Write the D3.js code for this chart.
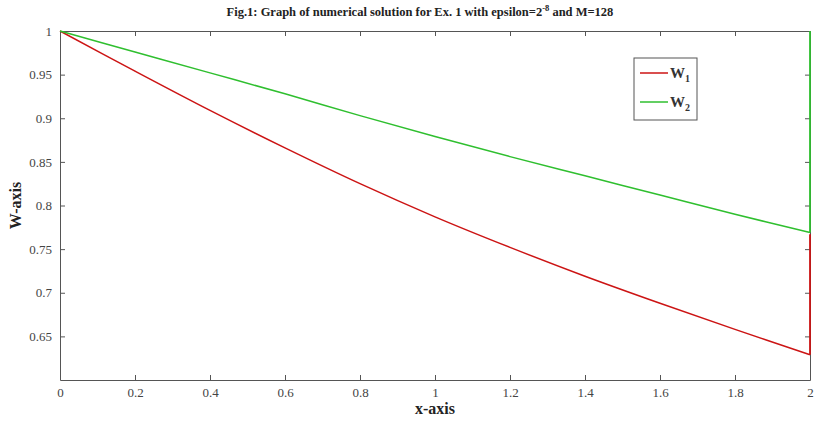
<!DOCTYPE html>
<html>
<head>
<meta charset="utf-8">
<script src="https://cdn.jsdelivr.net/npm/d3@7"></script>
<style>
  body { margin: 0; background: #fff; }
  svg { display: block; }
  svg text { font-family: "Liberation Serif", "Times New Roman", "DejaVu Serif", serif; }
</style>
</head>
<body>
<svg id="chart" width="814" height="426"></svg>
<script>
// values (last entry at x=2 is the boundary jump)
const xValues = [0, 0.2, 0.4, 0.6, 0.8, 1.0, 1.2, 1.4, 1.6, 1.8, 2.0, 2.0];
const w1Values = [1, 0.954, 0.909, 0.866, 0.825, 0.787, 0.752, 0.719, 0.688, 0.658, 0.629, 0.767];
const w2Values = [1, 0.976, 0.952, 0.928, 0.903, 0.879, 0.856, 0.834, 0.812, 0.790, 0.769, 1];
const xTicks = [0, 0.2, 0.4, 0.6, 0.8, 1, 1.2, 1.4, 1.6, 1.8, 2];
const yTicks = [0.65, 0.7, 0.75, 0.8, 0.85, 0.9, 0.95, 1];
const seriesNames = ["W1", "W2"];

const svg = d3.select("#chart");
const width = 814, height = 426;
const margin = { left: 60, right: 4, top: 31, bottom: 46 };
const innerW = width - margin.left - margin.right;
const innerH = height - margin.top - margin.bottom;
const axisColor = "#555";
const colors = ["#cc1414", "#2fbf2f"];
const serif = "\"Liberation Serif\", \"Times New Roman\", serif";

const x = d3.scaleLinear().domain([0, 2]).range([margin.left, margin.left + innerW]);
const y = d3.scaleLinear().domain([0.6, 1]).range([margin.top + innerH, margin.top]);

// title
const title = svg.append("text")
  .attr("x", x(1) - 15)
  .attr("y", 16)
  .attr("text-anchor", "middle")
  .style("font-size", "12.5px")
  .style("font-weight", "bold")
  .style("font-family", serif)
  .attr("fill", "#222");
title.append("tspan").text("Fig.1: Graph of numerical solution for Ex. 1 with epsilon=2");
title.append("tspan").attr("dy", -5).style("font-size", "8.5px").text("-8");
title.append("tspan").attr("dy", 5).text(" and M=128");

// axes with inward ticks on all four sides
const tickLen = 5;
const g = svg.append("g");

g.append("g")
  .attr("transform", `translate(0,${y(0.6)})`)
  .call(d3.axisBottom(x).tickValues(xTicks).tickSizeInner(-tickLen).tickSizeOuter(0).tickPadding(8)
    .tickFormat(d3.format("~g")));
g.append("g")
  .attr("transform", `translate(0,${y(1)})`)
  .call(d3.axisTop(x).tickValues(xTicks).tickSizeInner(-tickLen).tickSizeOuter(0).tickFormat(""));
g.append("g")
  .attr("transform", `translate(${x(0)},0)`)
  .call(d3.axisLeft(y).tickValues(yTicks).tickSizeInner(-tickLen).tickSizeOuter(0).tickPadding(8)
    .tickFormat(d3.format("~g")));
g.append("g")
  .attr("transform", `translate(${x(2)},0)`)
  .call(d3.axisRight(y).tickValues(yTicks).tickSizeInner(-tickLen).tickSizeOuter(0).tickFormat(""));

g.selectAll("g").attr("font-family", null);
g.selectAll("path.domain").attr("stroke", axisColor);
g.selectAll(".tick line").attr("stroke", axisColor);
g.selectAll(".tick text")
  .attr("fill", "#444")
  .style("font-size", "13px")
  .style("font-family", serif);

// axis labels
svg.append("text")
  .attr("x", x(1))
  .attr("y", 414)
  .attr("text-anchor", "middle")
  .style("font-size", "16px")
  .style("font-weight", "bold")
  .style("font-family", serif)
  .attr("fill", "#222")
  .text("x-axis");

svg.append("text")
  .attr("transform", `translate(21,${y(0.8)}) rotate(-90)`)
  .attr("text-anchor", "middle")
  .style("font-size", "16px")
  .style("font-weight", "bold")
  .style("font-family", serif)
  .attr("fill", "#222")
  .text("W-axis");

// curves: smooth interior plus the boundary jump at x=2
const series = [w1Values, w2Values];
const last = xValues.length - 1;
const smooth = d3.line().x(d => x(d[0])).y(d => y(d[1])).curve(d3.curveCatmullRom.alpha(0.5));
const straight = d3.line().x(d => x(d[0])).y(d => y(d[1]));

series.forEach((vals, i) => {
  const pts = xValues.map((xv, j) => [xv, vals[j]]);
  svg.append("path")
    .datum(pts.slice(0, last))
    .attr("fill", "none")
    .attr("stroke", colors[i])
    .attr("stroke-width", 1.5)
    .attr("d", smooth);
  svg.append("path")
    .datum(pts.slice(last - 1))
    .attr("fill", "none")
    .attr("stroke", colors[i])
    .attr("stroke-width", 1.8)
    .attr("d", straight);
});

// legend
const legend = svg.append("g").attr("transform", "translate(634,58)");
legend.append("rect")
  .attr("width", 63)
  .attr("height", 62)
  .attr("fill", "#fff")
  .attr("stroke", axisColor);

seriesNames.forEach((name, i) => {
  const ly = 15 + i * 29;
  legend.append("line")
    .attr("x1", 6).attr("x2", 34)
    .attr("y1", ly).attr("y2", ly)
    .attr("stroke", colors[i])
    .attr("stroke-width", 1.5);
  const t = legend.append("text")
    .attr("x", 36)
    .attr("y", ly + 5)
    .style("font-size", "15px")
    .style("font-weight", "bold")
    .style("font-family", serif)
    .attr("fill", "#333");
  t.append("tspan").text(name.charAt(0));
  t.append("tspan").attr("dy", 4).style("font-size", "10px").text(name.slice(1));
});
</script>
</body>
</html>
